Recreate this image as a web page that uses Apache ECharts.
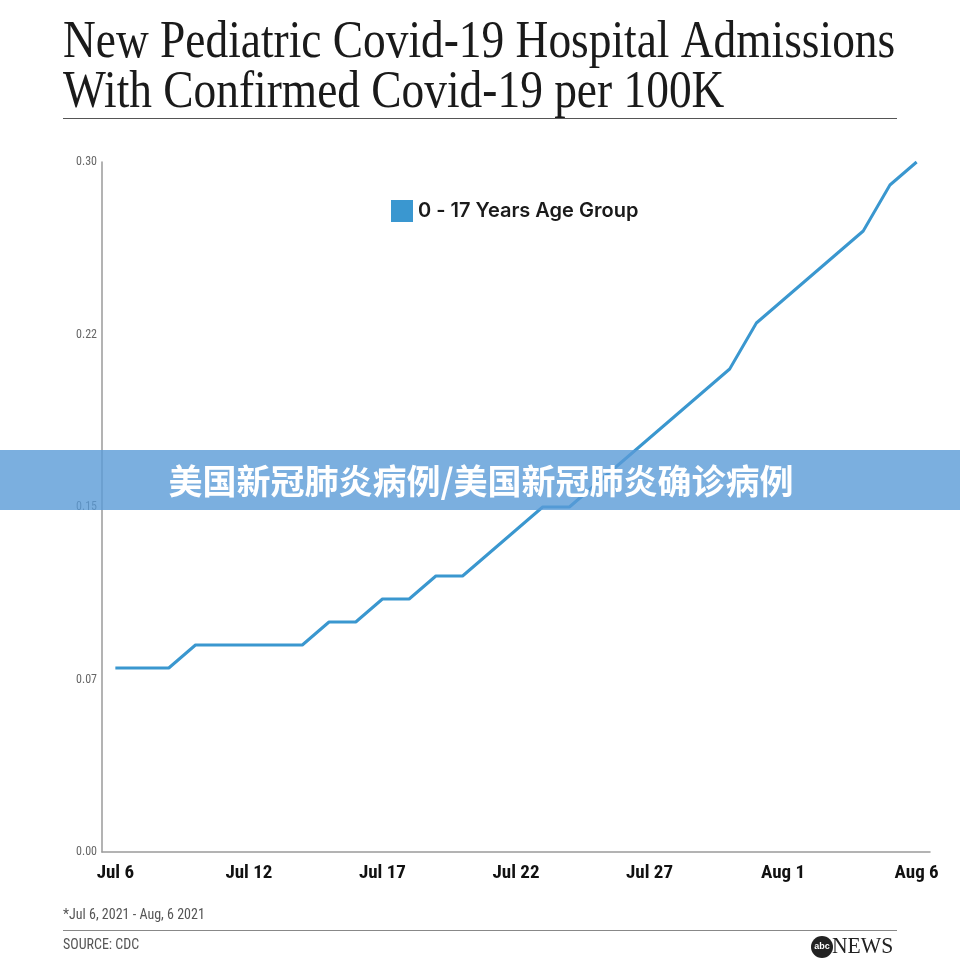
<!DOCTYPE html>
<html><head><meta charset="utf-8">
<script src="https://cdn.jsdelivr.net/npm/echarts@6/dist/echarts.min.js"></script>
<style>html,body{margin:0;padding:0;background:#fff}#c{width:960px;height:960px}</style>
</head><body><div id="c"></div>
<script>
const categories = ["Jul 6","Jul 8","Jul 9","Jul 10","Jul 11","Jul 12","Jul 13","Jul 14","Jul 15","Jul 16","Jul 17","Jul 18","Jul 19","Jul 20","Jul 21","Jul 22","Jul 23","Jul 24","Jul 25","Jul 26","Jul 27","Jul 28","Jul 29","Jul 30","Jul 31","Aug 1","Aug 2","Aug 3","Aug 4","Aug 5","Aug 6"];
const admissions = [0.08,0.08,0.08,0.09,0.09,0.09,0.09,0.09,0.10,0.10,0.11,0.11,0.12,0.12,0.13,0.14,0.15,0.15,0.16,0.17,0.18,0.19,0.20,0.21,0.23,0.24,0.25,0.26,0.27,0.29,0.30];
const yTickLabels = ["0.00","0.07","0.15","0.22","0.30"];
const seriesName = "0 - 17 Years Age Group";
const titleLines = ["New Pediatric Covid-19 Hospital Admissions","With Confirmed Covid-19 per 100K"];
const footnote = "*Jul 6, 2021 - Aug, 6 2021";
const sourceText = "SOURCE: CDC";
const bannerText = "美国新冠肺炎病例/美国新冠肺炎确诊病例";

const chart = echarts.init(document.getElementById('c'), null, {renderer:'canvas'});
const narrow = '"Liberation Sans Narrow","Roboto Condensed","Arial Narrow",Roboto,sans-serif';
chart.setOption({
  backgroundColor:'#fff',
  animation:false,
  grid:{left:102,right:30,top:162,bottom:108},
  legend:{
    data:[seriesName], left:386, top:195, icon:'rect', itemWidth:22, itemHeight:22, itemGap:8,
    textStyle:{fontFamily:'Inter, Roboto, sans-serif', fontSize:20, fontWeight:600, color:'#1a1a1a'}
  },
  xAxis:{
    type:'category', data:categories, boundaryGap:true,
    axisLine:{lineStyle:{color:'#9a9a9a',width:1.5}},
    axisTick:{show:false},
    axisLabel:{interval:4, color:'#111', fontSize:19, fontWeight:'bold', fontFamily:narrow, margin:12}
  },
  yAxis:{
    type:'value', min:0, max:0.3, interval:0.075,
    splitLine:{show:false},
    axisLine:{show:true, lineStyle:{color:'#9a9a9a',width:1.5}},
    axisTick:{show:false},
    axisLabel:{color:'#666', fontSize:12, fontFamily:narrow, margin:5,
      formatter:(v)=>yTickLabels[Math.round(v/0.075)]}
  },
  series:[{
    name:seriesName, type:'line', data:admissions, showSymbol:false,
    itemStyle:{color:'#3a97d0'},
    lineStyle:{color:'#3a97cf', width:3}
  }],
  graphic:[
    {type:'text', left:63, top:17, style:{text:titleLines[0], font:'52px "Liberation Serif", serif', fill:'#1a1a1a'}, scaleX:0.873},
    {type:'text', left:63, top:67, style:{text:titleLines[1], font:'52px "Liberation Serif", serif', fill:'#1a1a1a'}, scaleX:0.873},
    {type:'rect', shape:{x:63,y:118,width:834,height:1}, style:{fill:'#555'}},
    {type:'text', left:63, top:908, style:{text:footnote, font:'14px '+narrow, fill:'#555'}},
    {type:'rect', shape:{x:63,y:930,width:834,height:1}, style:{fill:'#888'}},
    {type:'text', left:63, top:938, style:{text:sourceText, font:'14px '+narrow, fill:'#555'}},
    {type:'circle', shape:{cx:822,cy:947,r:11}, style:{fill:'#222'}},
    {type:'text', x:822, y:947, style:{text:'abc', font:'bold 9px sans-serif', fill:'#fff', align:'center', verticalAlign:'middle'}},
    {type:'text', left:832, top:935, style:{text:'NEWS', font:'24px "Liberation Serif", serif', fill:'#222'}, scaleX:0.9},
    {type:'rect', z:100, shape:{x:0,y:450,width:960,height:60}, style:{fill:'rgba(90,155,215,0.8)'}},
    {type:'text', z:101, x:481, y:481, style:{text:bannerText, font:'bold 34px "Noto Sans CJK SC", sans-serif', fill:'#fff', align:'center', verticalAlign:'middle'}}
  ]
});
</script></body></html>
